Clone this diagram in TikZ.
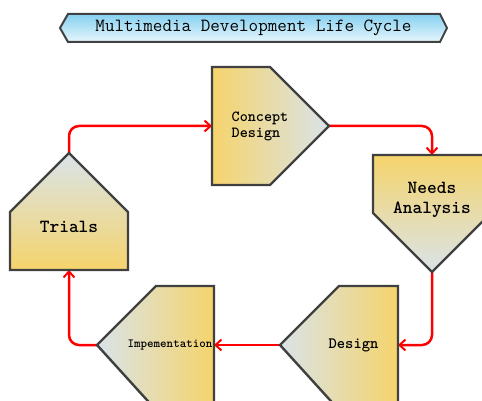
\documentclass[tikz,border=0pt]{standalone}
\usepackage{fontspec}
\usetikzlibrary{arrows.meta}
\definecolor{sand}{HTML}{F5D46C}
\definecolor{mist}{HTML}{D9E3E9}
\definecolor{edge}{HTML}{404040}
\definecolor{skytop}{HTML}{85D0F0}
\definecolor{skybot}{HTML}{E8F7FC}
\tikzset{
  stage/.style={draw=edge, line width=2.4pt, line join=miter},
  flow/.style={draw=red, line width=2.5pt, rounded corners=10pt,
    -{Straight Barb[length=6pt,width=11pt,line width=2pt]}},
  label/.style={inner sep=0pt, text=black},
}
\begin{document}
\begin{tikzpicture}[x=1pt,y=-1pt]
\useasboundingbox (0,0) rectangle (482,401);
\clip (0,0) rectangle (482,401);
\fill[white] (0,0) rectangle (482,401);

% connector end points on the stage outlines
\coordinate (trTop) at (69,153);
\coordinate (trBot) at (69,270);
\coordinate (cdIn) at (212,126);
\coordinate (cdOut) at (329,126);
\coordinate (naIn) at (432,155);
\coordinate (naOut) at (432,272);
\coordinate (deIn) at (398,345);
\coordinate (deOut) at (280,345);
\coordinate (imIn) at (214,345);
\coordinate (imOut) at (97,345);

% cycle connectors
\draw[flow] (trTop) |- (cdIn);
\draw[flow] (cdOut) -| (naIn);
\draw[flow] (naOut) |- (deIn);
\draw[flow] (deOut) -- (imIn);
\draw[flow] (imOut) -| (trBot);

% title banner
\shade[top color=skytop, bottom color=skybot, draw=edge, line width=2pt]
  (60,28) -- (68,14) -- (440,14) -- (447,28) -- (440,42) -- (68,42) -- cycle;
\node[inner sep=0pt, font=\ttfamily\fontsize{18.6}{20}\selectfont] (title) at (253.5,28) {Multimedia Development Life Cycle};

% stages
\shade[stage, left color=sand, right color=mist]
  (212,67) -- (270,67) -- (329,126) -- (270,185) -- (212,185) -- cycle;
\shade[stage, top color=sand, bottom color=mist]
  (373,155) -- (491,155) -- (491,213) -- (432,272) -- (373,213) -- cycle;
\shade[stage, top color=mist, bottom color=sand]
  (10,270) -- (128,270) -- (128,212) -- (69,153) -- (10,212) -- cycle;
\shade[stage, left color=mist, right color=sand]
  (214,286) -- (214,410) -- (156,410) -- (97,345) -- (156,286) -- cycle;
\shade[stage, left color=mist, right color=sand]
  (398,286) -- (398,410) -- (339,410) -- (280,345) -- (339,286) -- cycle;

% stage labels
\node[label, anchor=west, align=left, font=\ttfamily\bfseries\fontsize{15.4}{16}\selectfont] (cd) at (231.5,126) {Concept\\Design};
\node[label, align=center, font=\ttfamily\bfseries\fontsize{18.5}{20}\selectfont] (na) at (432,200) {Needs\\Analysis};
\node[label, font=\ttfamily\bfseries\fontsize{18.5}{20}\selectfont] (tr) at (69,227) {Trials};
\node[label, font=\ttfamily\bfseries\fontsize{12.4}{12}\selectfont] (im) at (170,345) {Impementation};
\node[label, font=\ttfamily\bfseries\fontsize{15.8}{16}\selectfont] (de) at (353.5,345) {Design};
\end{tikzpicture}
\end{document}
